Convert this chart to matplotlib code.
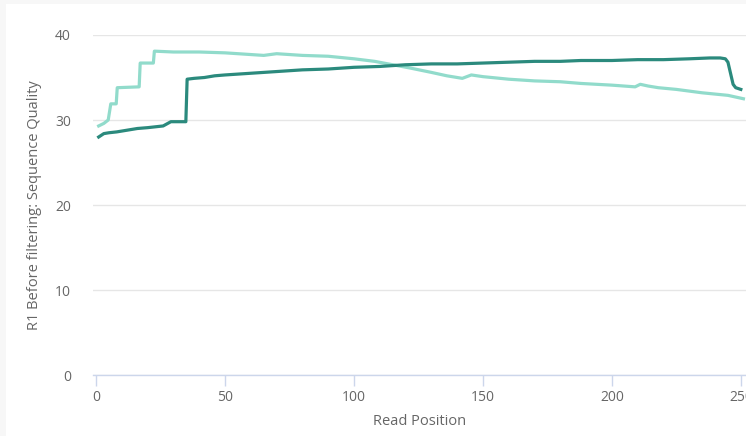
import matplotlib
matplotlib.use("Agg")
import matplotlib.pyplot as plt
from matplotlib.patches import Rectangle

# R1 before filtering: mean quality per read position
pos_a = [1, 3, 5, 8, 12, 16, 20, 26, 29, 34.8, 35.3, 38, 42, 46, 50, 60, 70, 80, 90,
         100, 110, 115, 120, 130, 140, 150, 160, 170, 180, 188, 200, 210, 220, 230,
         238, 242, 244, 245, 246, 247, 248, 250]
qual_a = [28.0, 28.4, 28.5, 28.6, 28.8, 29.0, 29.1, 29.3, 29.8, 29.8, 34.8, 34.9,
          35.0, 35.2, 35.3, 35.5, 35.7, 35.9, 36.0, 36.2, 36.3, 36.4, 36.5, 36.6, 36.6,
          36.7, 36.8, 36.9, 36.9, 37.0, 37.0, 37.1, 37.1, 37.2, 37.3, 37.3, 37.2, 36.8,
          35.5, 34.2, 33.8, 33.6]

pos_b = [1, 3, 4.7, 5.7, 7.8, 8.2, 16.7, 17.1, 22.2, 22.6, 30, 40, 50, 60, 65, 70, 80,
         90, 100, 108, 115, 122, 130, 136, 142, 145.5, 150, 160, 170, 180, 188, 200, 209,
         211, 214, 218, 225, 235, 245, 251]
qual_b = [29.3, 29.6, 30.0, 31.9, 31.9, 33.8, 33.9, 36.7, 36.7, 38.1, 38.0, 38.0, 37.9,
          37.7, 37.6, 37.8, 37.6, 37.5, 37.2, 36.9, 36.5, 36.1, 35.6, 35.2, 34.9, 35.3,
          35.1, 34.8, 34.6, 34.5, 34.3, 34.1, 33.9, 34.2, 34.0, 33.8, 33.6, 33.2, 32.9,
          32.5]

xticks = [0, 50, 100, 150, 200, 250]
yticks = [0, 10, 20, 30, 40]

plt.rcParams['font.family'] = ['Open Sans', 'DejaVu Sans']

fig = plt.figure(figsize=(7.46, 4.36), dpi=100)
fig.patch.set_facecolor('#f7f7f7')
# white chart card, slightly inset from the left/top edge
fig.patches.append(Rectangle((6 / 746, 0), 1, 1 - 4 / 436, transform=fig.transFigure,
                             facecolor='white', edgecolor='none', zorder=-5))

ax = fig.add_axes([93 / 746, 1 - 375 / 436, 1 - 93 / 746, 340 / 436])
ax.set_facecolor('none')
ax.set_zorder(2)

ax.plot(pos_a, qual_a, color='#2b8a7d', lw=2.3, solid_joinstyle='round', zorder=3)
ax.plot(pos_b, qual_b, color='#91dbcb', lw=2.3, solid_joinstyle='round', zorder=2)

ax.set_xlim(-1.2, 252)
ax.set_ylim(0, 40)
ax.set_xticks(xticks)
ax.set_yticks(yticks)
ax.grid(axis='y', color='#e6e6e6', lw=1)
ax.set_axisbelow(True)

for side in ['top', 'right', 'left']:
    ax.spines[side].set_visible(False)
ax.spines['bottom'].set_color('#ccd6eb')
ax.spines['bottom'].set_linewidth(1)

ax.tick_params(axis='x', colors='#ccd6eb', length=8, width=1, labelcolor='#666666',
               labelsize=10, pad=3)
ax.tick_params(axis='y', length=0, labelcolor='#666666', labelsize=10, pad=16)

ax.set_xlabel('Read Position', color='#666666', fontsize=10.5, labelpad=6)
ax.set_ylabel('R1 Before filtering: Sequence Quality', color='#666666', fontsize=10.5,
              labelpad=9)

fig.savefig('out.png', dpi=100)
